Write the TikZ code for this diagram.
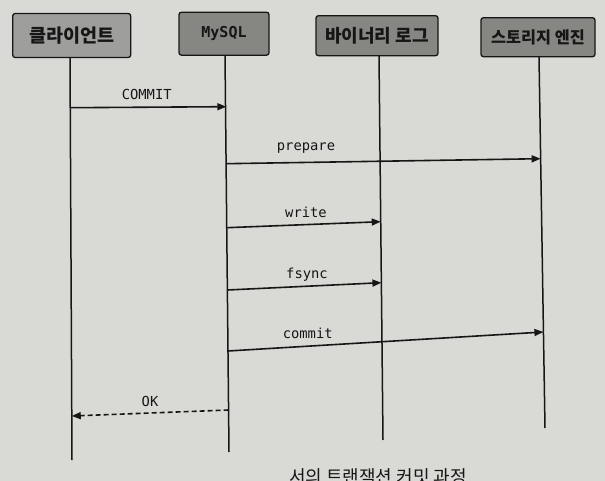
\documentclass[tikz,border=0pt]{standalone}
\usepackage{fontspec}
\setmonofont{DejaVu Sans Mono}
\newfontfamily\kr{Noto Sans CJK KR}
\usetikzlibrary{arrows.meta}
\definecolor{paper}{RGB}{217,217,213}
\definecolor{boxgray}{RGB}{134,134,131}
\definecolor{ink}{RGB}{22,22,22}
\tikzset{
  actor/.style={draw=ink, line width=1.3pt, rounded corners=2.5pt, fill=boxgray,
    inner sep=0pt, align=center, text=ink},
  life/.style={draw=ink, line width=1.5pt},
  msg/.style={draw=ink, line width=1.6pt, -{Triangle[length=9pt,width=7pt]}},
  reply/.style={msg, dash pattern=on 5pt off 3pt},
  lbl/.style={font=\ttfamily\fontsize{13.8}{14}\selectfont, text=ink, inner sep=0pt}
}
\begin{document}
\begin{tikzpicture}[x=1pt,y=-1pt]
\fill[paper] (0,0) rectangle (605,481);
\useasboundingbox (0,0) rectangle (605,481);

% actors
\node[actor, minimum width=118pt, minimum height=44pt, fill=boxgray!80!white,
  font=\kr\bfseries\fontsize{18.5}{19}\selectfont] (client) at (71.7,35.5) {클라이언트};
\node[actor, minimum width=90pt, minimum height=43pt,
  font=\ttfamily\bfseries\fontsize{15}{16}\selectfont] (mysql) at (224,33.7) {MySQL};
\node[actor, minimum width=122pt, minimum height=40pt,
  font=\kr\bfseries\fontsize{18}{19}\selectfont] (binlog) at (377,35.7) {바이너리 로그};
\node[actor, minimum width=114pt, minimum height=39pt,
  font=\kr\bfseries\fontsize{16.3}{17}\selectfont] (engine) at (538,37.2) {스토리지 엔진};

% lifeline ends
\coordinate (clientT) at (70,57.7);
\coordinate (clientE) at (72,460);
\coordinate (mysqlT) at (225,55.2);
\coordinate (mysqlE) at (229,452);
\coordinate (binlogT) at (379,55.7);
\coordinate (binlogE) at (383,440);
\coordinate (engineT) at (539,56.7);
\coordinate (engineE) at (545,428);
\draw[life] (clientT) -- (clientE);
\draw[life] (mysqlT) -- (mysqlE);
\draw[life] (binlogT) -- (binlogE);
\draw[life] (engineT) -- (engineE);

% message end points
\coordinate (m1a) at (70.5,107.7);  \coordinate (m1b) at (226.3,106.7);
\coordinate (m2a) at (226.1,163.7); \coordinate (m2b) at (540.6,158.7);
\coordinate (m3a) at (226.7,227.7); \coordinate (m3b) at (380.7,221.7);
\coordinate (m4a) at (227.4,290);   \coordinate (m4b) at (381.4,282.7);
\coordinate (m5a) at (228,351);     \coordinate (m5b) at (543.4,332);
\coordinate (m6a) at (228.6,410);   \coordinate (m6b) at (71.8,416);

\draw[msg] (m1a) -- (m1b);
\draw[msg] (m2a) -- (m2b);
\draw[msg] (m3a) -- (m3b);
\draw[msg] (m4a) -- (m4b);
\draw[msg] (m5a) -- (m5b);
\draw[reply] (m6a) -- (m6b);

\node[lbl] (l1) at (146.7,94) {COMMIT};
\node[lbl] (l2) at (306,148.5) {prepare};
\node[lbl] (l3) at (306,212.5) {write};
\node[lbl] (l4) at (307,275) {fsync};
\node[lbl] (l5) at (307.7,333.5) {commit};
\node[lbl] (l6) at (150,401.5) {OK};

% partially visible caption (cut by the lower edge, as in the photo)
\begin{scope}
\clip (0,0) rectangle (605,481);
\node[anchor=base east, inner sep=0pt, text=ink,
  font=\kr\fontsize{18}{19}\selectfont] (cap) at (467,483) {서의 트랜잭션 커밋 과정};
\end{scope}
\end{tikzpicture}
\end{document}
